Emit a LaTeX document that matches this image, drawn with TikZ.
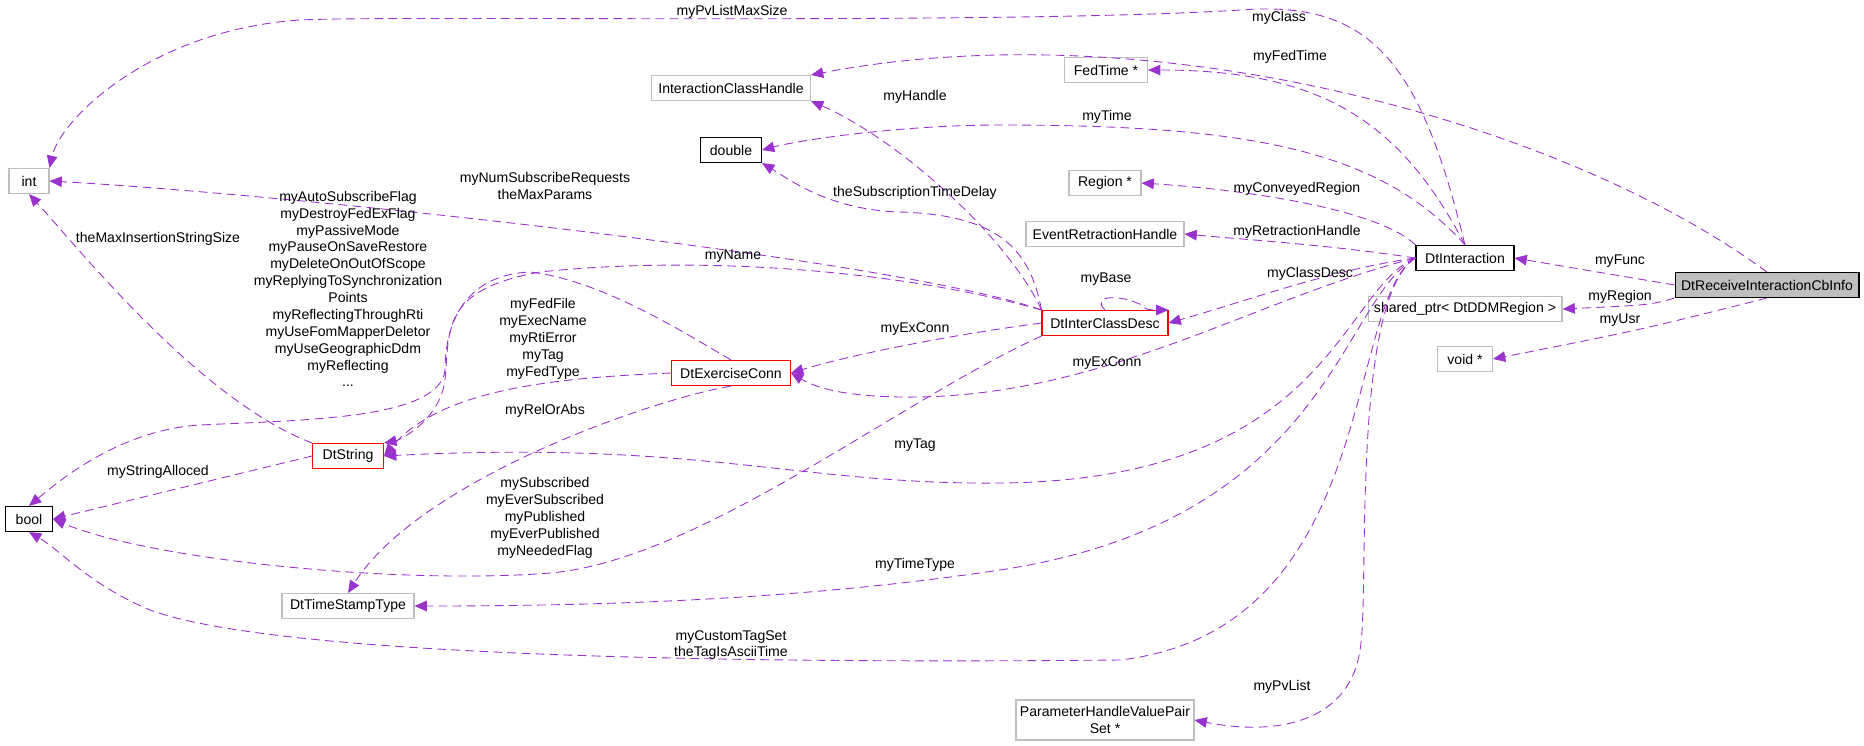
\documentclass[tikz,border=0pt]{standalone}
\usepackage{fontspec}
\setmainfont{Liberation Sans}
\usetikzlibrary{arrows.meta,positioning}
\definecolor{edgepurple}{RGB}{154,50,205}
\definecolor{extgray}{RGB}{191,191,191}

\begin{document}
\begin{tikzpicture}[
    x=0.02cm, y=-0.02cm,
    every node/.style={font=\fontsize{8}{9.6}\selectfont},
    cls/.style={
        rectangle, draw, line width=0.6pt, fill=white,
        minimum height=0.5cm, inner sep=1pt, align=center
    },
    ext/.style={cls, draw=extgray},
    doc/.style={cls, draw=black},
    hot/.style={cls, draw=red},
    mem/.style={
        draw=edgepurple, dashed, dash pattern=on 5pt off 3pt, line width=0.5pt,
        -{Triangle[length=7pt,width=6pt,fill=edgepurple]}
    },
    lbl/.style={align=center, inner sep=0pt}
]
\useasboundingbox (0,0) rectangle (1864,745);

% Classes and types
\node[ext, minimum width=0.8cm] (int) at (29,181) {int};
\node[doc, minimum width=0.94cm] (bool) at (29,519) {bool};
\node[ext, minimum width=3.18cm] (classhandle) at (731,88) {InteractionClassHandle};
\node[doc, minimum width=1.22cm] (double) at (731,150) {double};
\node[ext, minimum width=1.66cm] (fedtime) at (1106,70) {FedTime *};
\node[ext, minimum width=1.44cm] (region) at (1105,183) {Region *};
\node[ext, minimum width=3.16cm] (retraction) at (1105,234) {EventRetractionHandle};
\node[hot, minimum width=2.52cm] (classdesc) at (1105,323) {DtInterClassDesc};
\node[hot, minimum width=2.38cm] (exconn) at (731,373) {DtExerciseConn};
\node[hot, minimum width=1.42cm] (dtstring) at (348,456) {DtString};
\node[ext, minimum width=2.64cm] (stamptype) at (348,606) {DtTimeStampType};
\node[ext, minimum width=3.56cm, minimum height=0.8cm] (pvpairs) at (1105,720) {ParameterHandleValuePair\\Set *};
\node[doc, minimum width=1.96cm] (interaction) at (1465,258) {DtInteraction};
\node[ext, minimum width=3.88cm] (ddmregion) at (1465,309) {shared\_ptr< DtDDMRegion >};
\node[ext, minimum width=1.1cm] (voidptr) at (1465,359) {void *};
\node[doc, fill=extgray, minimum width=3.68cm] (cbinfo) at (1767,285) {DtReceiveInteractionCbInfo};

% DtReceiveInteractionCbInfo members
\draw[mem] (cbinfo.west) -- (interaction.east);
\draw[mem] (cbinfo.south west) .. controls (1650,305) .. (ddmregion.east);
\draw[mem] (cbinfo.south) .. controls (1640,330) .. (voidptr.east);
\draw[mem] (cbinfo.north) .. controls (1560,120) and (1150,10) .. (classhandle.north east);

% DtInteraction members
\draw[mem] (interaction.north) .. controls (1420,60) and (1370,0) .. (1240,10)
    .. controls (1000,25) and (400,15) .. (300,20) .. controls (150,30) and (60,120) .. (int.north east);
\draw[mem] (interaction.north) .. controls (1400,120) and (1320,70) .. (fedtime.east);
\draw[mem] (interaction.north) .. controls (1380,150) and (1250,125) .. (1000,125) .. controls (900,125) and (800,140) .. (double.east);
\draw[mem] (interaction.north west) .. controls (1380,210) and (1250,190) .. (region.east);
\draw[mem] (interaction.west) .. controls (1330,245) and (1250,240) .. (retraction.east);
\draw[mem] (interaction.west) .. controls (1330,270) and (1250,300) .. (classdesc.east);
\draw[mem] (interaction.west) .. controls (1250,300) and (1100,400) .. (900,397) .. controls (850,396) and (820,390) .. (exconn.east);
\draw[mem] (interaction.west) .. controls (1340,290) and (1330,480) .. (1000,483) .. controls (800,485) and (700,440) .. (dtstring.east);
\draw[mem] (interaction.west) .. controls (1340,300) and (1330,520) .. (1000,570) .. controls (800,600) and (600,606) .. (stamptype.east);
\draw[mem] (interaction.west) .. controls (1345,300) and (1380,630) .. (1120,660) .. controls (900,662) and (300,665) .. (150,610) .. controls (90,585) and (60,550) .. (bool.south);
\draw[mem] (interaction.west) .. controls (1350,300) and (1370,600) .. (1360,650) .. controls (1350,720) and (1280,737) .. (pvpairs.east);

% DtInterClassDesc members
\draw[mem] (classdesc.north west) .. controls (1010,240) and (900,140) .. (classhandle.south east);
\draw[mem] (classdesc.north west) .. controls (1030,250) and (1000,215) .. (900,212) .. controls (830,210) and (790,180) .. (double.south east);
\draw[mem] (classdesc.north west) .. controls (900,260) and (300,195) .. (int.east);
\draw[mem] (classdesc.north) .. controls (1090,295) and (1120,295) .. (1137,303) .. controls (1145,305) and (1140,310) .. (classdesc.north east) ;
\draw[mem] (classdesc.west) .. controls (950,335) and (850,355) .. (exconn.east);
\draw[mem] (classdesc.north west) .. controls (900,270) and (700,255) .. (540,272) .. controls (440,290) and (450,330) .. (445,380) .. controls (440,420) and (400,440) .. (dtstring.north east);
\draw[mem] (classdesc.south west) .. controls (900,400) and (700,560) .. (550,573) .. controls (400,585) and (150,560) .. (bool.east);

% DtExerciseConn members
\draw[mem] (exconn.north) .. controls (680,330) and (600,280) .. (530,272) .. controls (460,275) and (445,330) .. (445,370) .. controls (440,420) and (300,420) .. (200,425) .. controls (120,430) and (60,480) .. (bool.north);
\draw[mem] (exconn.west) .. controls (550,378) and (440,390) .. (dtstring.east);
\draw[mem] (exconn.south) .. controls (650,400) and (420,480) .. (stamptype.north);

% DtString members
\draw[mem] (dtstring.north west) .. controls (200,400) and (80,250) .. (int.south);
\draw[mem] (dtstring.west) -- (bool.east);

% Member names
\node[lbl] at (732,12) {myPvListMaxSize};
\node[lbl] at (1279,18) {myClass};
\node[lbl] at (1290,57) {myFedTime};
\node[lbl] at (1107,117) {myTime};
\node[lbl] at (1297,189) {myConveyedRegion};
\node[lbl] at (1297,232) {myRetractionHandle};
\node[lbl] at (1310,274) {myClassDesc};
\node[lbl] at (1620,261) {myFunc};
\node[lbl] at (1620,297) {myRegion};
\node[lbl] at (1620,320) {myUsr};
\node[lbl] at (915,97) {myHandle};
\node[lbl] at (915,193) {theSubscriptionTimeDelay};
\node[lbl] at (545,186) {myNumSubscribeRequests\\theMaxParams};
\node[lbl] at (733,256) {myName};
\node[lbl] at (1106,279) {myBase};
\node[lbl] at (915,329) {myExConn};
\node[lbl] at (1107,363) {myExConn};
\node[lbl] at (348,289) {myAutoSubscribeFlag\\myDestroyFedExFlag\\myPassiveMode\\myPauseOnSaveRestore\\myDeleteOnOutOfScope\\myReplyingToSynchronization\\Points\\myReflectingThroughRti\\myUseFomMapperDeletor\\myUseGeographicDdm\\myReflecting\\...};
\node[lbl] at (158,239) {theMaxInsertionStringSize};
\node[lbl] at (158,472) {myStringAlloced};
\node[lbl] at (543,339) {myFedFile\\myExecName\\myRtiError\\myTag\\myFedType};
\node[lbl] at (545,411) {myRelOrAbs};
\node[lbl] at (915,445) {myTag};
\node[lbl] at (545,518) {mySubscribed\\myEverSubscribed\\myPublished\\myEverPublished\\myNeededFlag};
\node[lbl] at (915,565) {myTimeType};
\node[lbl] at (731,645) {myCustomTagSet\\theTagIsAsciiTime};
\node[lbl] at (1282,687) {myPvList};

\end{tikzpicture}
\end{document}
